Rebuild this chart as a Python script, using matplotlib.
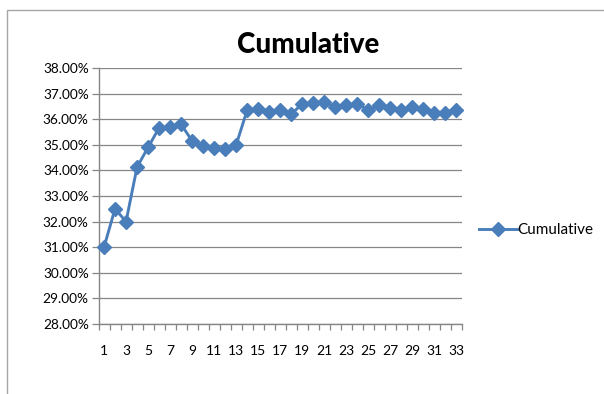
import matplotlib
matplotlib.use('Agg')
import matplotlib.pyplot as plt
import numpy as np
from matplotlib.lines import Line2D
from matplotlib.ticker import FuncFormatter, FixedLocator

plt.rcParams['font.family'] = ['Lato', 'DejaVu Sans']

# cumulative share per period (percent)
periods = list(range(1, 34))
cumulative = [31.0, 32.5, 32.0, 34.13, 34.9, 35.66, 35.7, 35.8, 35.15, 34.97,
              34.87, 34.85, 35.0, 36.36, 36.38, 36.28, 36.36, 36.2, 36.6, 36.65,
              36.66, 36.48, 36.56, 36.58, 36.36, 36.54, 36.42, 36.37, 36.48, 36.38,
              36.24, 36.24, 36.36]
series_name = 'Cumulative'

blue = '#4a7ebb'
grey = '#868686'

fig = plt.figure(figsize=(6.04, 3.94), dpi=100)
ax = fig.add_axes([98.5 / 604, 1 - 324 / 394, (462 - 98.5) / 604, (324 - 68) / 394])

ax.plot(periods, cumulative, color=blue, lw=2.1, marker='D', ms=7.2,
        mec=blue, mfc=blue, label=series_name, clip_on=False, zorder=3)

ax.set_xlim(0.5, 33.5)
ax.set_ylim(28, 38)
ax.set_yticks(np.arange(28, 38.01, 1))
ax.yaxis.set_major_formatter(FuncFormatter(lambda v, p: '{:.2f}%'.format(v)))
ax.grid(axis='y', color=grey, lw=0.9)
ax.set_axisbelow(True)

# category labels on odd periods, tick marks between categories
ax.xaxis.set_major_locator(FixedLocator(periods[::2]))
ax.xaxis.set_minor_locator(FixedLocator(np.arange(0.5, 34, 1)))
ax.tick_params(axis='x', which='major', length=0, pad=15, labelsize=10)
ax.tick_params(axis='x', which='minor', length=4, color=grey, width=0.9, direction='out')
ax.tick_params(axis='y', length=5, color=grey, width=0.9, direction='out', labelsize=9.8, pad=2)

for side in ['top', 'right']:
    ax.spines[side].set_visible(False)
for side in ['left', 'bottom']:
    ax.spines[side].set_color(grey)
    ax.spines[side].set_linewidth(1.0)

fig.text(308 / 604, 1 - 45 / 394, 'Cumulative', ha='center', va='center',
         fontsize=20, fontweight='black')

fig.legend(loc='center left', bbox_to_anchor=(465 / 604, 1 - 230 / 394), frameon=False,
           fontsize=11, handlelength=2.5, handletextpad=0.05)

# chart frame
fig.add_artist(Line2D([7 / 604, 7 / 604, 1.0], [0.0, 1 - 10 / 394, 1 - 10 / 394],
                      transform=fig.transFigure, color='#a6a6a6', lw=1.0))

fig.savefig('out.png', dpi=100)
